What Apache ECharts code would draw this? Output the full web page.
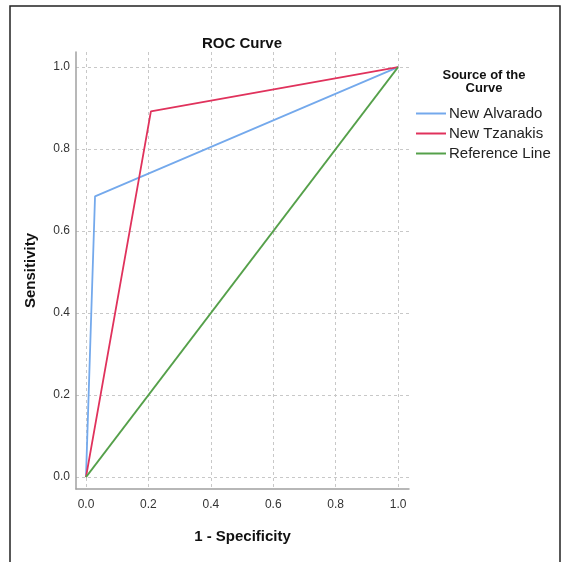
<!DOCTYPE html>
<html><head><meta charset="utf-8">
<script src="https://cdn.jsdelivr.net/npm/echarts@6/dist/echarts.min.js"></script>
<style>html,body{margin:0;padding:0;background:#fff}#c{width:562px;height:562px}</style>
</head><body><div id="c"></div>
<script>
const tickValues = [0, 0.2, 0.4, 0.6, 0.8, 1.0];
const seriesNames = ['New Alvarado', 'New Tzanakis', 'Reference Line'];
const alvarado = [[0, 0], [0.029, 0.685], [1, 1]];
const tzanakis = [[0, 0], [0.208, 0.892], [1, 1]];
const reference = [[0, 0], [1, 1]];
const colors = ['#74a9ec', '#e0325c', '#55a04a'];

const chart = echarts.init(document.getElementById('c'), null, {renderer: 'canvas'});
const font = 'Liberation Sans, Arial, sans-serif';
const axisCommon = {
  type: 'value',
  nameLocation: 'middle',
  nameTextStyle: {fontFamily: font, fontWeight: 'bold', fontSize: 15, color: '#111'},
  axisLine: {show: true, onZero: false, lineStyle: {color: '#a0a0a0', width: 1.5}},
  axisTick: {show: false, customValues: tickValues},
  axisLabel: {customValues: tickValues, fontFamily: font, fontSize: 12, color: '#333',
    formatter: v => v.toFixed(1)},
  splitLine: {show: true, lineStyle: {color: '#c8c8c8', type: [3, 3], width: 1}}
};
chart.setOption({
  animation: false,
  title: [
    {text: 'ROC Curve', left: 242, top: 36, padding: 0, textAlign: 'center',
      textStyle: {fontFamily: font, fontWeight: 'bold', fontSize: 15, color: '#111'}},
    {text: 'Source of the\nCurve', left: 484, top: 69, padding: 0, textAlign: 'center',
      textStyle: {fontFamily: font, fontWeight: 'bold', fontSize: 13, color: '#111', lineHeight: 13}}
  ],
  graphic: [{type: 'rect', shape: {x: 10, y: 6, width: 550, height: 570},
    style: {fill: 'none', stroke: '#222', lineWidth: 1.5}, silent: true}],
  legend: {
    orient: 'vertical', left: 416, top: 106, padding: 0, itemWidth: 30, itemHeight: 2, itemGap: 5,
    icon: 'rect',
    data: seriesNames,
    textStyle: {fontFamily: font, fontSize: 15, color: '#222', padding: [0, 0, 0, -2]}
  },
  grid: {left: 76, right: 153, top: 52, bottom: 73, containLabel: false},
  xAxis: Object.assign({}, axisCommon, {min: -0.032, max: 1.035, name: '1 - Specificity', nameGap: 40,
    axisLabel: Object.assign({}, axisCommon.axisLabel, {margin: 10})}),
  yAxis: Object.assign({}, axisCommon, {min: -0.029, max: 1.037, name: 'Sensitivity', nameGap: 38,
    axisLabel: Object.assign({}, axisCommon.axisLabel, {margin: 6})}),
  series: [
    {name: seriesNames[0], type: 'line', data: alvarado, symbol: 'none', color: colors[0], lineStyle: {width: 1.8}},
    {name: seriesNames[1], type: 'line', data: tzanakis, symbol: 'none', color: colors[1], lineStyle: {width: 1.8}},
    {name: seriesNames[2], type: 'line', data: reference, symbol: 'none', color: colors[2], lineStyle: {width: 1.8}}
  ]
});
</script></body></html>
